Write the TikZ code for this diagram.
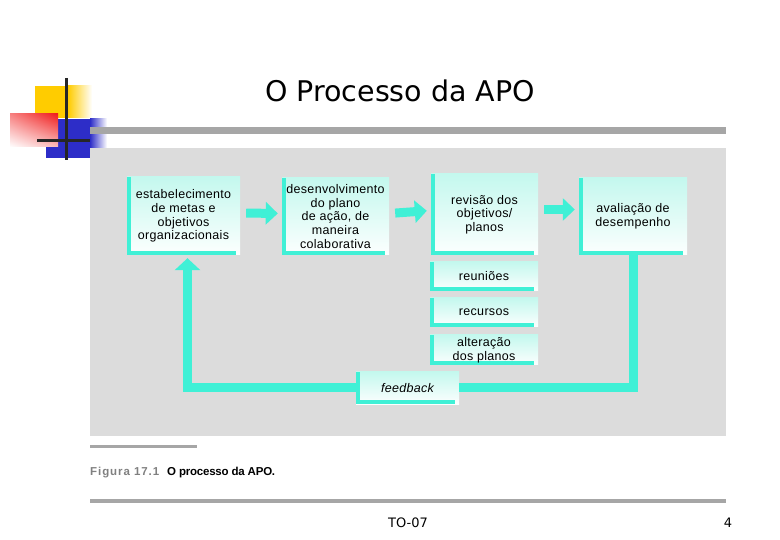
\documentclass[tikz,border=0pt]{standalone}
\usepackage{fontspec}
\setmainfont{DejaVu Sans}
\newfontfamily\boxfont[LetterSpace=2.5]{Liberation Sans}
\usetikzlibrary{arrows.meta,shadings}
\definecolor{apocyan}{RGB}{64,240,214}
\definecolor{boxtop}{RGB}{196,248,238}
\definecolor{panelgray}{RGB}{220,220,220}
\definecolor{bargray}{RGB}{166,166,166}
\definecolor{capgray}{RGB}{128,128,128}
\definecolor{logoyellow}{RGB}{255,204,0}
\definecolor{logored}{RGB}{240,30,30}
\definecolor{logoblue}{RGB}{45,45,200}
\tikzset{
  apobox/.style={rectangle, top color=boxtop, bottom color=white!96!boxtop, inner sep=2pt, align=center,
    font=\boxfont\fontsize{12.5}{13.6}\selectfont,
    path picture={
      \fill[apocyan] (path picture bounding box.south west) rectangle ([xshift=4pt]path picture bounding box.north west);
      \fill[apocyan] (path picture bounding box.south west) rectangle ([xshift=-4pt,yshift=4pt]path picture bounding box.south east);
    }},
  apoarrow/.style={draw=apocyan, line width=9pt, shorten <=6pt, shorten >=4pt, -{Triangle[length=12pt,width=22pt]}},
  fbline/.style={draw=apocyan, line width=9pt},
}
\begin{document}
\begin{tikzpicture}[x=1pt,y=-1pt]
  \useasboundingbox (0,0) rectangle (780,540);
  % logo
  \fill[logoyellow] (35,86) rectangle (68,118);
  \shade[left color=logoyellow, right color=white] (68,86) rectangle (92,118);
  \fill[logoblue] (46,119) rectangle (90,158);
  \shade[left color=logoblue, right color=white] (90,119) rectangle (107,158);
  \shade[upper left=logored!55!white, upper right=logored, lower left=white, lower right=logored!30!white] (10,114) rectangle (58,147);
  \draw[line width=3pt, black!85] (66.5,78) -- (66.5,160);
  \draw[line width=3pt, black!85] (37,141) -- (90,141);
  \fill[bargray] (90,127) rectangle (726,134);
  \fill[panelgray] (90,148) rectangle (726,436);
  \node (title) at (400,91) {\fontsize{28.5}{34}\selectfont O Processo da APO};
  % steps of the process
  \node[apobox, minimum width=113pt, minimum height=78pt] (metas) at (183.5,216) {estabelecimento\\de metas e\\objetivos\\organizacionais};
  \node[apobox, minimum width=107pt, minimum height=77pt] (plano) at (335.5,216.5) {desenvolvimento\\do plano\\de ação, de\\maneira\\colaborativa};
  \node[apobox, minimum width=107pt, minimum height=81pt] (revisao) at (484.5,214.5) {revisão dos\\objetivos/\\planos};
  \node[apobox, minimum width=108pt, minimum height=77pt] (avaliacao) at (633,216.5) {avaliação de\\desempenho};
  \node[apobox, minimum width=108pt, minimum height=29pt] (reunioes) at (484,276.5) {reuniões};
  \node[apobox, minimum width=108pt, minimum height=29pt] (recursos) at (484,312.5) {recursos};
  \node[apobox, minimum width=108pt, minimum height=30pt] (alteracao) at (484,350) {alteração\\dos planos};
  \node[apobox, minimum width=103pt, minimum height=32pt, font=\boxfont\itshape\fontsize{12.5}{13.6}\selectfont] (feedback) at (407.5,388) {feedback};
  \draw[apoarrow] ([yshift=3pt]metas.east) -- ([yshift=3pt]plano.west);
  \draw[apoarrow] ([yshift=3pt]plano.east) -- ([yshift=4pt]revisao.west);
  \draw[apoarrow] ([yshift=5pt]revisao.east) -- ([yshift=7pt]avaliacao.west);
  % feedback loop
  \draw[fbline] (avaliacao.south) |- (feedback.east);
  \draw[fbline, shorten >=3pt, -{Triangle[length=12pt,width=25pt]}] (feedback.west) -| ([xshift=4pt]metas.south);
  % caption and footer
  \draw[bargray, line width=3pt] (90,446) -- (197,446);
  \node[anchor=west, inner sep=0pt, font=\boxfont\bfseries\fontsize{11.5}{13}\selectfont] (caption) at (90,473)
    {{\color{capgray}\addfontfeature{LetterSpace=8}Figura 17.1}\hspace{8pt}\addfontfeature{LetterSpace=-2}O processo da APO.};
  \draw[bargray, line width=3.5pt] (90,501) -- (726,501);
  \node (slidecode) at (408,523) {\fontsize{13}{15}\selectfont TO-07};
  \node (pagenum) at (728,523) {\fontsize{13}{15}\selectfont 4};
\end{tikzpicture}
\end{document}
